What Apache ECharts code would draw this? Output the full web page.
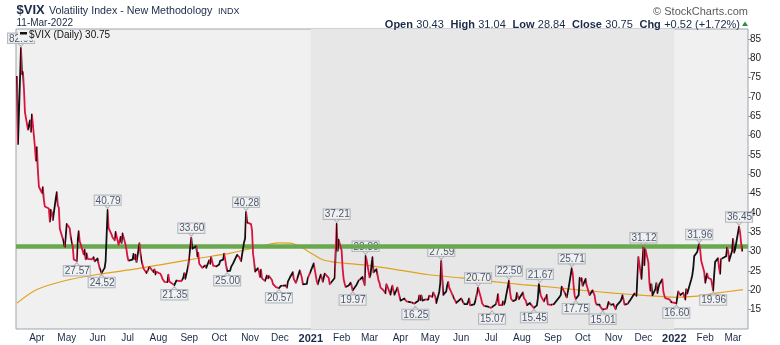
<!DOCTYPE html>
<html>
<head>
<meta charset="utf-8">
<script src="https://cdn.jsdelivr.net/npm/echarts@6/dist/echarts.min.js"></script>
<style>
  html, body { margin: 0; padding: 0; background: #ffffff; }
  #chart { width: 780px; height: 345px; }
</style>
</head>
<body>
<div id="chart"></div>
<script>
// ---- $VIX daily closes (trading days, grouped by month) ----
const days2020 = [
  '03-12','03-13','03-16','03-17','03-18','03-19','03-20','03-23','03-24','03-25','03-26','03-27','03-30','03-31',
  '04-01','04-02','04-03','04-06','04-07','04-08','04-09','04-13','04-14','04-15','04-16','04-17','04-20','04-21','04-22','04-23','04-24','04-27','04-28','04-29','04-30',
  '05-01','05-04','05-05','05-06','05-07','05-08','05-11','05-12','05-13','05-14','05-15','05-18','05-19','05-20','05-21','05-22','05-26','05-27','05-28','05-29',
  '06-01','06-02','06-03','06-04','06-05','06-08','06-09','06-10','06-11','06-12','06-15','06-16','06-17','06-18','06-19','06-22','06-23','06-24','06-25','06-26','06-29','06-30',
  '07-01','07-02','07-06','07-07','07-08','07-09','07-10','07-13','07-14','07-15','07-16','07-17','07-20','07-21','07-22','07-23','07-24','07-27','07-28','07-29','07-30','07-31',
  '08-03','08-04','08-05','08-06','08-07','08-10','08-11','08-12','08-13','08-14','08-17','08-18','08-19','08-20','08-21','08-24','08-25','08-26','08-27','08-28','08-31',
  '09-01','09-02','09-03','09-04','09-08','09-09','09-10','09-11','09-14','09-15','09-16','09-17','09-18','09-21','09-22','09-23','09-24','09-25','09-28','09-29','09-30',
  '10-01','10-02','10-05','10-06','10-07','10-08','10-09','10-12','10-13','10-14','10-15','10-16','10-19','10-20','10-21','10-22','10-23','10-26','10-27','10-28','10-29','10-30',
  '11-02','11-03','11-04','11-05','11-06','11-09','11-10','11-11','11-12','11-13','11-16','11-17','11-18','11-19','11-20','11-23','11-24','11-25','11-27','11-30',
  '12-01','12-02','12-03','12-04','12-07','12-08','12-09','12-10','12-11','12-14','12-15','12-16','12-17','12-18','12-21','12-22','12-23','12-24','12-28','12-29','12-30','12-31'
];
const close2020 = [
  75.47,57.83,82.69,75.91,76.45,72.00,66.04,61.59,61.67,63.95,61.00,65.54,57.08,53.54,
  57.06,50.91,46.80,45.24,46.70,43.35,41.67,41.17,37.76,40.84,40.11,38.15,43.83,45.41,41.98,41.38,35.93,33.29,33.57,31.23,34.15,
  37.19,35.97,33.61,34.12,31.44,27.98,27.57,33.04,35.28,32.61,31.89,29.30,30.53,27.99,29.53,28.16,28.01,27.62,28.59,27.51,
  28.23,26.84,25.66,25.81,24.52,25.81,27.57,27.57,40.79,36.09,34.40,33.67,33.47,32.94,35.12,31.77,31.37,33.84,32.22,34.73,31.78,30.43,
  28.62,27.68,27.94,29.43,28.08,29.26,27.29,32.19,29.52,27.76,28.00,25.68,24.46,24.84,24.32,26.08,25.84,24.74,25.44,24.10,24.76,24.46,
  24.28,23.76,22.99,22.65,22.21,22.13,24.03,22.28,22.13,22.05,21.35,21.51,22.54,22.72,22.54,22.37,22.03,23.27,24.47,22.96,26.41,
  26.12,26.57,33.60,30.75,31.46,28.81,29.71,26.87,25.85,25.59,26.04,26.46,25.83,27.78,26.86,28.58,28.51,26.38,26.19,26.27,26.37,
  26.70,27.63,27.96,29.48,28.06,26.36,25.00,25.07,26.07,26.40,26.97,27.41,29.18,29.35,28.65,28.11,27.55,32.46,33.35,40.28,37.59,38.02,
  37.13,35.55,29.57,27.58,24.86,25.75,24.80,23.45,25.35,23.10,22.45,22.71,23.84,23.11,23.70,22.66,21.64,21.25,20.84,20.57,
  20.77,21.17,21.28,20.79,21.30,20.68,22.27,22.52,23.31,24.72,22.89,22.50,21.93,21.57,25.16,24.23,23.31,21.53,21.70,23.08,22.77,22.75
];
const days2021 = [
  '01-04','01-05','01-06','01-07','01-08','01-11','01-12','01-13','01-14','01-15','01-19','01-20','01-21','01-22','01-25','01-26','01-27','01-28','01-29',
  '02-01','02-02','02-03','02-04','02-05','02-08','02-09','02-10','02-11','02-12','02-16','02-17','02-18','02-19','02-22','02-23','02-24','02-25','02-26',
  '03-01','03-02','03-03','03-04','03-05','03-08','03-09','03-10','03-11','03-12','03-15','03-16','03-17','03-18','03-19','03-22','03-23','03-24','03-25','03-26','03-29','03-30','03-31',
  '04-01','04-05','04-06','04-07','04-08','04-09','04-12','04-13','04-14','04-15','04-16','04-19','04-20','04-21','04-22','04-23','04-26','04-27','04-28','04-29','04-30',
  '05-03','05-04','05-05','05-06','05-07','05-10','05-11','05-12','05-13','05-14','05-17','05-18','05-19','05-20','05-21','05-24','05-25','05-26','05-27','05-28',
  '06-01','06-02','06-03','06-04','06-07','06-08','06-09','06-10','06-11','06-14','06-15','06-16','06-17','06-18','06-21','06-22','06-23','06-24','06-25','06-28','06-29','06-30',
  '07-01','07-02','07-06','07-07','07-08','07-09','07-12','07-13','07-14','07-15','07-16','07-19','07-20','07-21','07-22','07-23','07-26','07-27','07-28','07-29','07-30',
  '08-02','08-03','08-04','08-05','08-06','08-09','08-10','08-11','08-12','08-13','08-16','08-17','08-18','08-19','08-20','08-23','08-24','08-25','08-26','08-27','08-30','08-31',
  '09-01','09-02','09-03','09-07','09-08','09-09','09-10','09-13','09-14','09-15','09-16','09-17','09-20','09-21','09-22','09-23','09-24','09-27','09-28','09-29','09-30',
  '10-01','10-04','10-05','10-06','10-07','10-08','10-11','10-12','10-13','10-14','10-15','10-18','10-19','10-20','10-21','10-22','10-25','10-26','10-27','10-28','10-29',
  '11-01','11-02','11-03','11-04','11-05','11-08','11-09','11-10','11-11','11-12','11-15','11-16','11-17','11-18','11-19','11-22','11-23','11-24','11-26','11-29','11-30',
  '12-01','12-02','12-03','12-06','12-07','12-08','12-09','12-10','12-13','12-14','12-15','12-16','12-17','12-20','12-21','12-22','12-23','12-27','12-28','12-29','12-30','12-31'
];
const close2021 = [
  26.97,25.34,25.07,22.37,21.56,24.08,23.33,22.21,23.25,24.34,23.24,21.58,21.32,21.91,23.19,23.02,37.21,30.21,33.09,
  30.24,25.56,22.91,21.77,20.87,21.24,21.63,21.99,21.25,19.97,21.46,21.50,22.49,22.05,23.45,23.11,21.34,28.89,27.95,
  23.35,24.10,26.67,28.57,24.66,25.47,24.03,22.56,21.91,20.69,20.03,19.79,19.23,21.58,20.95,18.88,20.30,21.20,19.81,18.86,20.74,19.61,19.40,
  17.33,17.91,18.12,17.16,16.95,16.69,16.91,16.65,16.99,16.57,16.25,17.29,18.68,17.50,18.71,17.33,17.64,17.56,17.28,17.61,18.61,
  18.31,19.48,19.15,18.39,16.69,19.66,21.84,27.59,23.13,18.81,19.72,21.34,22.18,20.67,20.15,18.40,18.84,17.36,16.74,16.76,
  17.90,17.48,18.04,16.42,16.42,17.07,17.89,16.10,15.65,16.39,17.02,18.15,17.75,20.70,17.89,16.66,16.32,15.97,15.62,15.76,16.02,15.83,
  15.48,15.07,16.44,16.20,19.00,16.18,16.17,17.12,16.33,17.01,18.45,22.50,19.73,17.91,17.69,17.20,17.58,19.36,18.31,17.70,18.24,
  19.46,18.04,17.97,17.28,16.15,16.72,16.79,16.06,15.59,15.45,16.12,17.91,21.57,21.67,18.56,17.15,17.22,16.79,18.84,16.39,16.24,16.48,
  16.11,16.41,16.41,18.04,18.48,18.80,20.95,19.37,19.46,18.18,18.69,20.81,25.71,24.36,20.87,18.63,17.75,18.76,23.25,22.56,23.14,
  21.15,22.96,21.30,21.00,19.54,18.77,20.00,19.85,18.64,16.86,16.30,16.30,15.70,15.49,15.01,15.43,15.24,15.98,16.98,16.53,16.26,
  16.41,16.03,15.10,16.04,16.48,17.22,17.78,18.73,17.66,16.29,16.49,16.37,16.71,17.59,17.91,19.17,19.38,18.58,28.62,22.96,27.19,
  31.12,26.50,30.67,27.18,21.89,19.90,21.58,18.69,20.31,21.89,19.29,20.57,21.57,22.87,19.70,18.63,17.96,17.68,17.54,16.95,17.33,17.22
];
const days2022 = [
  '01-03','01-04','01-05','01-06','01-07','01-10','01-11','01-12','01-13','01-14','01-18','01-19','01-20','01-21','01-24','01-25','01-26','01-27','01-28','01-31',
  '02-01','02-02','02-03','02-04','02-07','02-08','02-09','02-10','02-11','02-14','02-15','02-16','02-17','02-18','02-22','02-23','02-24','02-25','02-28',
  '03-01','03-02','03-03','03-04','03-07','03-08','03-09','03-10','03-11'
];
const close2022 = [
  16.60,16.91,19.73,19.61,18.76,19.40,18.41,17.62,20.31,19.19,22.79,23.85,25.59,28.85,29.90,31.16,31.96,30.49,27.66,24.83,
  21.96,22.09,24.35,23.22,22.86,21.44,19.96,23.91,27.36,28.33,25.70,24.29,28.11,27.75,28.81,31.02,30.32,27.59,30.15,
  33.32,29.74,30.48,31.98,36.45,35.13,32.45,30.23,30.75
];

// ---- 200-day simple moving average ----
const maDates = [
  '2020-03-12','2020-04-01','2020-05-01','2020-06-03','2020-07-06','2020-08-07','2020-09-10','2020-10-14',
  '2020-11-03','2020-11-20','2020-12-01','2020-12-12','2020-12-22','2021-01-04','2021-01-13','2021-01-25',
  '2021-02-05','2021-02-25','2021-03-25','2021-04-28','2021-06-01','2021-07-06','2021-08-01','2021-09-01',
  '2021-10-01','2021-11-01','2021-12-01','2022-01-03','2022-01-24','2022-02-10','2022-03-11'
];
const ma200 = [
  16.7,20.2,22.6,24.2,25.4,26.8,28.3,29.7,
  30.9,31.9,32.3,32.2,31.2,29.2,27.9,27.3,
  27.0,26.5,25.5,24.1,23.2,22.2,21.5,20.8,
  20.0,19.3,18.7,18.2,18.5,19.2,20.2
];

// ---- horizontal resistance level ----
const resistanceLevel = [31.5];

// ---- annotated swing highs / lows ----
const peakDates = ['2020-03-16','2020-06-11','2020-09-03','2020-10-28','2021-01-27','2021-02-25','2021-05-12',
  '2021-06-18','2021-07-19','2021-08-19','2021-09-20','2021-12-01','2022-01-26','2022-03-07'];
const troughDates = ['2020-05-11','2020-06-05','2020-08-17','2020-10-09','2020-11-30','2021-02-12','2021-04-16',
  '2021-07-02','2021-08-13','2021-09-24','2021-10-21','2022-01-03','2022-02-09'];

// ---- shaded calendar year ----
const shadedYear = ['2021-01-01', '2022-01-01'];

// ---- x axis: month ticks ----
const monthTickDates = ['2020-04-01','2020-05-01','2020-06-01','2020-07-01','2020-08-01','2020-09-01','2020-10-01',
  '2020-11-01','2020-12-01','2021-01-01','2021-02-01','2021-03-01','2021-04-01','2021-05-01','2021-06-01','2021-07-01',
  '2021-08-01','2021-09-01','2021-10-01','2021-11-01','2021-12-01','2022-01-01','2022-02-01','2022-03-01'];
const monthTickLabels = ['Apr','May','Jun','Jul','Aug','Sep','Oct','Nov','Dec','2021','Feb','Mar','Apr','May','Jun','Jul',
  'Aug','Sep','Oct','Nov','Dec','2022','Feb','Mar'];
const axisRange = ['2020-03-11', '2022-03-16'];

// ---- header: last session ----
const sessionLabels = ['Open', 'High', 'Low', 'Close', 'Chg'];
const sessionValues = ['30.43', '31.04', '28.84', '30.75', '+0.52 (+1.72%)'];

// ---------------------------------------------------------------
const FONT = '"Liberation Sans", Arial, sans-serif';
const UP = '#111111';
const DOWN = '#d8133d';
const NAVY = '#1b2a48';
const BOX_BG = '#f4f4f4';
const BOX_BORDER = '#a3aab1';
const DAY = 86400000;

// dates are placed on a plain numeric axis as whole days (UTC)
function dayTime(s) {
  const [y, m, d] = s.split('-').map(Number);
  return Date.UTC(y, m - 1, d) / DAY;
}
function yearPoints(year, days, closes) {
  return days.map((d, i) => [dayTime(year + '-' + d), closes[i]]);
}

const vix = [
  ...yearPoints(2020, days2020, close2020),
  ...yearPoints(2021, days2021, close2021),
  ...yearPoints(2022, days2022, close2022)
];
const maLine = maDates.map((d, i) => [dayTime(d), ma200[i]]);
const closeAt = new Map(vix.map(p => [p[0], p[1]]));
const calloutPoints = dates => dates.map(d => { const t = dayTime(d); return [t, closeAt.get(t)]; });
const lastClose = vix[vix.length - 1][1];

// colour each segment by direction: black when rising, red when falling
const pieces = [{ lte: vix[0][0], color: UP }];
for (let i = 1; i < vix.length; i++) {
  pieces.push({ gt: vix[i - 1][0], lte: vix[i][0], color: vix[i][1] >= vix[i - 1][1] ? UP : DOWN });
}

const tickTimes = monthTickDates.map(dayTime);
const tickLabelAt = new Map(tickTimes.map((t, i) => [t, monthTickLabels[i]]));

// value callout: a small box joined to the point by a pointer
function calloutSeries(points, above) {
  return {
    type: 'scatter',
    z: 3,
    silent: true,
    data: points,
    symbol: 'triangle',
    symbolRotate: above ? 180 : 0,
    symbolSize: [7, 4],
    symbolOffset: [0, above ? -3.5 : 3.5],
    itemStyle: { color: BOX_BG, borderColor: BOX_BORDER, borderWidth: 1 },
    label: {
      show: true,
      position: above ? 'top' : 'bottom',
      distance: -1,
      formatter: p => p.value[1].toFixed(2),
      backgroundColor: BOX_BG,
      borderColor: BOX_BORDER,
      borderWidth: 1,
      padding: [1, 0, 0, 1],
      color: NAVY,
      fontSize: 10,
      lineHeight: 8.5,
      fontFamily: FONT
    },
    emphasis: { disabled: true }
  };
}

const chart = echarts.init(document.getElementById('chart'));
chart.setOption({
  animation: false,
  backgroundColor: '#ffffff',
  grid: {
    left: 16, right: 32, top: 29, bottom: 16,
    show: true,
    backgroundColor: '#f0f0f0',
    borderColor: '#9ca5ae',
    borderWidth: 1
  },
  xAxis: {
    type: 'value',
    min: dayTime(axisRange[0]),
    max: dayTime(axisRange[1]),
    axisLine: { show: false },
    axisTick: { show: false },
    splitLine: { show: false },
    axisLabel: {
      customValues: tickTimes,
      hideOverlap: false,
      color: NAVY,
      fontSize: 10,
      fontFamily: FONT,
      margin: 4,
      formatter: v => {
        const s = tickLabelAt.get(Math.round(v)) || '';
        return /^\d{4}$/.test(s) ? '{yr|' + s + '}' : s;
      },
      rich: { yr: { fontWeight: 'bold', fontSize: 11, color: NAVY, fontFamily: FONT } }
    }
  },
  yAxis: {
    type: 'value',
    position: 'right',
    min: 10,
    max: 87.6,
    interval: 5,
    axisLine: { show: false },
    axisTick: { show: true, length: 3, lineStyle: { color: '#8f99a3' } },
    splitLine: { show: false },
    axisLabel: {
      showMinLabel: false,
      showMaxLabel: false,
      color: '#222222',
      fontSize: 10,
      fontFamily: FONT,
      margin: 2
    }
  },
  visualMap: {
    type: 'piecewise',
    show: false,
    dimension: 0,
    seriesIndex: 0,
    pieces: pieces
  },
  series: [
    {
      name: '$VIX',
      type: 'line',
      z: 5,
      data: vix,
      showSymbol: false,
      silent: true,
      lineStyle: { width: 1.8, join: 'round' }
    },
    {
      name: 'MA200',
      type: 'line',
      z: 2,
      data: maLine,
      smooth: 0.3,
      showSymbol: false,
      silent: true,
      lineStyle: { color: '#e3a01d', width: 1.2 }
    },
    {
      name: 'year shade',
      type: 'line',
      z: 1,
      data: [],
      silent: true,
      markArea: {
        silent: true,
        itemStyle: { color: '#e7e7e7' },
        data: [[{ xAxis: dayTime(shadedYear[0]) }, { xAxis: dayTime(shadedYear[1]) }]]
      }
    },
    {
      name: 'level',
      type: 'line',
      z: 4,
      data: [],
      silent: true,
      markLine: {
        silent: true,
        symbol: 'none',
        label: { show: false },
        lineStyle: { color: '#6aa84f', width: 4.5, type: 'solid' },
        data: resistanceLevel.map(v => ({ yAxis: v }))
      }
    },
    calloutSeries(calloutPoints(peakDates), true),
    calloutSeries(calloutPoints(troughDates), false)
  ],
  graphic: [
    { type: 'text', x: 16.5, y: 4, z: 100, silent: true,
      style: { text: '$VIX', fontSize: 13, fontWeight: 'bold', fontFamily: FONT, fill: NAVY, verticalAlign: 'top' } },
    { type: 'text', x: 49, y: 5.5, z: 100, silent: true,
      style: { text: 'Volatility Index - New Methodology', fontSize: 10.7, fontFamily: FONT, fill: NAVY, verticalAlign: 'top' } },
    { type: 'text', x: 218, y: 7, z: 100, silent: true,
      style: { text: 'INDX', fontSize: 9, fontFamily: FONT, fill: NAVY, verticalAlign: 'top' } },
    { type: 'text', x: 16.5, y: 18, z: 100, silent: true,
      style: { text: '11-Mar-2022', fontSize: 10, fontFamily: FONT, fill: NAVY, verticalAlign: 'top' } },
    { type: 'text', x: 748, y: 6, z: 100, silent: true,
      style: { text: '\u00A9 StockCharts.com', fontSize: 11, fontFamily: FONT, fill: '#5a5a5a', align: 'right', verticalAlign: 'top' } },
    { type: 'text', x: 740, y: 19, z: 100, silent: true,
      style: {
        text: sessionLabels.map((k, i) => '{k|' + k + '} {v|' + sessionValues[i] + '}').join('  '),
        align: 'right', verticalAlign: 'top',
        rich: {
          k: { fontSize: 11, fontWeight: 'bold', fontFamily: FONT, fill: NAVY },
          v: { fontSize: 11, fontFamily: FONT, fill: NAVY }
        }
      } },
    { type: 'polygon', z: 100, silent: true,
      shape: { points: [[742, 26], [748, 26], [745, 21.5]] },
      style: { fill: '#2f8f3a' } },
    // in-plot legend
    { type: 'rect', z: 100, silent: true,
      shape: { x: 18, y: 30, width: 93, height: 10.5 },
      style: { fill: '#f0f0f0' } },
    { type: 'rect', z: 101, silent: true,
      shape: { x: 20, y: 32, width: 7, height: 2.5 },
      style: { fill: '#111111' } },
    { type: 'text', x: 29, y: 30, z: 101, silent: true,
      style: { text: '$VIX (Daily) ' + lastClose.toFixed(2), fontSize: 10, fontFamily: FONT, fill: '#111111', verticalAlign: 'top' } }
  ]
});
</script>
</body>
</html>
